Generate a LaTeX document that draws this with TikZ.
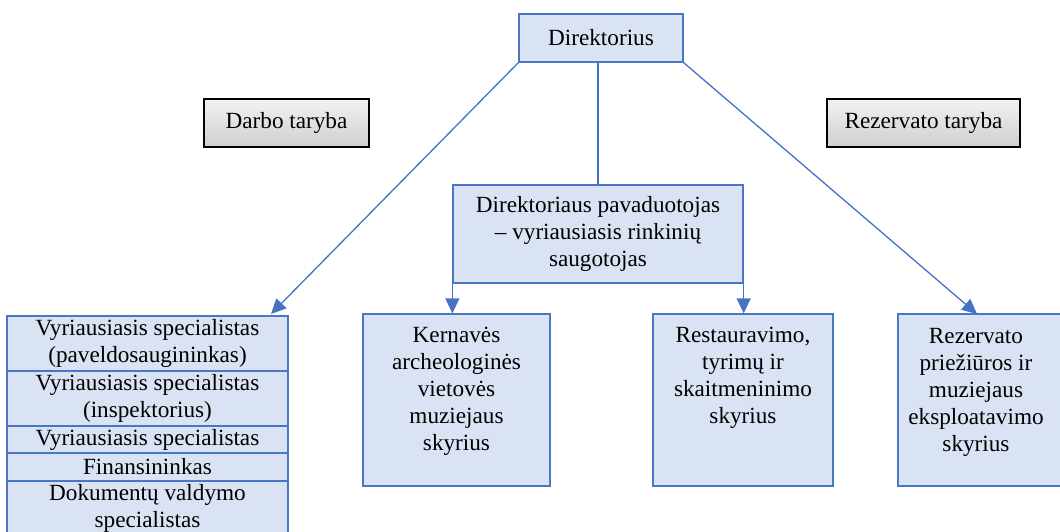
\documentclass[tikz,border=0pt]{standalone}
\usepackage{fontspec}
\setmainfont{Liberation Serif}
\usetikzlibrary{arrows.meta}
\definecolor{boxfill}{HTML}{DAE3F3}
\definecolor{boxline}{HTML}{4A76C6}
\definecolor{arrowc}{HTML}{4472C4}
\begin{document}
\begin{tikzpicture}[x=1pt,y=-1pt,
  bluebox/.style={draw=boxline, fill=boxfill, line width=1.3pt, inner sep=0pt,
    font=\fontsize{23.2}{27}\selectfont, text=black, align=center},
  graybox/.style={draw=black, line width=1.3pt, top color=gray!10, bottom color=gray!38,
    inner sep=0pt, font=\fontsize{23.2}{27}\selectfont, text=black},
  txt/.style={font=\fontsize{23.2}{27}\selectfont, text=black, align=center, inner sep=0pt},
  conn/.style={draw=arrowc, line width=1.3pt},
  arr/.style={conn, -{Triangle[length=15pt,width=14pt]}}]
\useasboundingbox (0,0) rectangle (1060,531);
\clip (0,0) rectangle (1060,531);

% top
\node[bluebox, minimum width=164pt, minimum height=48pt] (dir) at (601,38) {Direktorius};
\node[graybox, minimum width=165pt, minimum height=48pt] (darbo) at (286.5,123) {Darbo taryba};
\node[graybox, minimum width=193pt, minimum height=48pt] (rezt) at (923.5,123) {Rezervato taryba};

% deputy
\node[bluebox, minimum width=290pt, minimum height=98pt] (dep) at (598,234)
  {Direktoriaus pavaduotojas\\– vyriausiasis rinkinių\\saugotojas};

% departments
\node[bluebox, minimum width=187pt, minimum height=172pt] (ker) at (456.5,400) {};
\node[txt] (kert) at (456.5,391) {Kernavės\\archeologinės\\vietovės\\muziejaus\\skyrius};
\node[bluebox, minimum width=180pt, minimum height=172pt] (res) at (743,400) {};
\node[txt] (rest) at (743,378) {Restauravimo,\\tyrimų ir\\skaitmeninimo\\skyrius};
\node[bluebox, minimum width=172pt, minimum height=172pt] (rez) at (984,400) {};
\node[txt] (rezt2) at (976,392) {Rezervato\\priežiūros ir\\muziejaus\\eksploatavimo\\skyrius};

% left stack
\node[bluebox, minimum width=281pt, minimum height=55pt] (s1) at (147.5,343.5)
  {Vyriausiasis specialistas\\(paveldosaugininkas)};
\node[bluebox, minimum width=281pt, minimum height=55pt] (s2) at (147.5,398.5)
  {Vyriausiasis specialistas\\(inspektorius)};
\node[bluebox, minimum width=281pt, minimum height=27pt] (s3) at (147.5,439.5)
  {Vyriausiasis specialistas};
\node[bluebox, minimum width=281pt, minimum height=28pt] (s4) at (147.5,467)
  {Finansininkas};
\node[bluebox, minimum width=281pt, minimum height=55pt] (s5) at (147.5,508.5)
  {Dokumentų valdymo\\specialistas};

% connectors
\coordinate (la) at (271,314);
\coordinate (ra) at (977,314);
\draw[arr] (dir.south west) -- (la);
\draw[arr] (dir.south east) -- (ra);
\draw[conn] (dep.north) -- (dep.north |- dir.south);
\draw[arr] (dep.south west) -- (dep.south west |- ker.north);
\draw[arr] (dep.south east) -- (dep.south east |- res.north);
\end{tikzpicture}
\end{document}
